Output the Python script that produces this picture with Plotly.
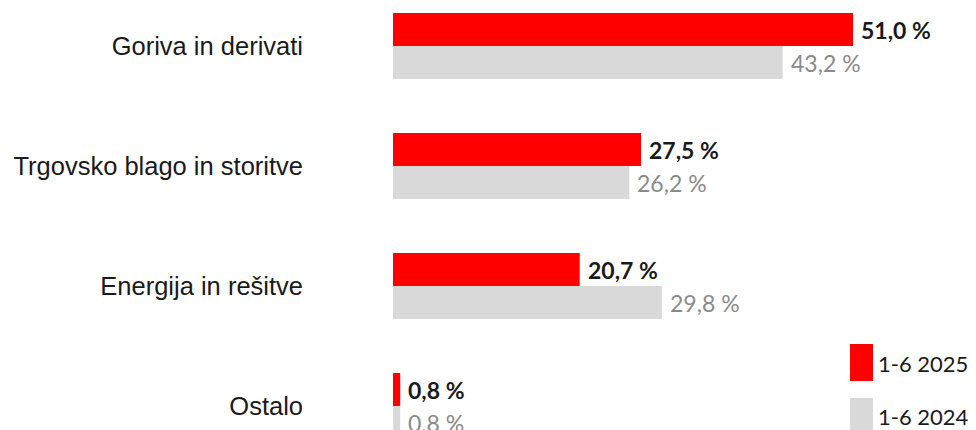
import plotly.graph_objects as go

categories = ["Goriva in derivati", "Trgovsko blago in storitve", "Energija in rešitve", "Ostalo"]
vals_2025 = [51.0, 27.5, 20.7, 0.8]
vals_2024 = [43.2, 26.2, 29.8, 0.8]
series_names = ["1-6 2025", "1-6 2024"]
label_2025 = ["51,0 %", "27,5 %", "20,7 %", "0,8 %"]
label_2024 = ["43,2 %", "26,2 %", "29,8 %", "0,8 %"]

RED = "#ff0000"
GREY = "#d9d9d9"
ypos = list(range(len(categories)))
W = 0.275

# page body has an 8px margin: figure pixel = reference pixel - 8
L = 385
PW = 976 - L
PXPCT = 9.02

def px(xref_px):
    return (xref_px - 8 - L) / PW

def py(yref_px):
    return 1 - (yref_px - 8) / 430

fig = go.Figure()
fig.add_trace(go.Bar(y=ypos, x=vals_2025, orientation="h", name=series_names[0],
                     marker=dict(color=RED, line=dict(width=0)), width=W, offset=-W,
                     showlegend=False))
fig.add_trace(go.Bar(y=ypos, x=vals_2024, orientation="h", name=series_names[1],
                     marker=dict(color=GREY, line=dict(width=0)), width=W, offset=0,
                     showlegend=False))

FONT = "Lato, Open Sans, sans-serif"
annotations = []
for i in ypos:
    annotations.append(dict(x=vals_2025[i], y=i - W / 2, xref="x", yref="y", text="<b>" + label_2025[i] + "</b>",
                            showarrow=False, xanchor="left", yanchor="middle", xshift=6,
                            font=dict(family=FONT, size=23, color="#1a1a1a")))
    annotations.append(dict(x=vals_2024[i], y=i + W / 2, xref="x", yref="y", text=label_2024[i],
                            showarrow=False, xanchor="left", yanchor="middle", xshift=6,
                            font=dict(family=FONT, size=23, color="#8a8a8a")))

# legend drawn manually
shapes = [
    dict(type="rect", xref="paper", yref="paper", x0=px(850), x1=px(873),
         y0=py(381), y1=py(344), fillcolor=RED, line=dict(width=0)),
    dict(type="rect", xref="paper", yref="paper", x0=px(850), x1=px(873),
         y0=py(445), y1=py(398), fillcolor=GREY, line=dict(width=0)),
]
annotations.append(dict(x=px(876), y=py(363), xref="paper", yref="paper", text=series_names[0],
                        showarrow=False, xanchor="left", yanchor="middle",
                        font=dict(family=FONT, size=22, color="#1a1a1a")))
annotations.append(dict(x=px(876), y=py(416), xref="paper", yref="paper", text=series_names[1],
                        showarrow=False, xanchor="left", yanchor="middle",
                        font=dict(family=FONT, size=22, color="#1a1a1a")))

fig.update_layout(
    width=976, height=430,
    margin=dict(l=L, r=0, t=0, b=0, pad=0),
    plot_bgcolor="white", paper_bgcolor="white",
    barmode="overlay",
    shapes=shapes,
    annotations=annotations,
    xaxis=dict(range=[0, PW / PXPCT], showgrid=False, zeroline=False, showticklabels=False,
               showline=False, ticks=""),
    yaxis=dict(range=[(430 - 38) / 120, -38 / 120], tickvals=ypos, ticktext=categories,
               showgrid=False, zeroline=False, showline=False, ticks="",
               ticklabelstandoff=89,
               tickfont=dict(family="Liberation Sans, Arial, sans-serif", size=25.5, color="#1a1a1a")),
)

fig.write_html("out.html")
